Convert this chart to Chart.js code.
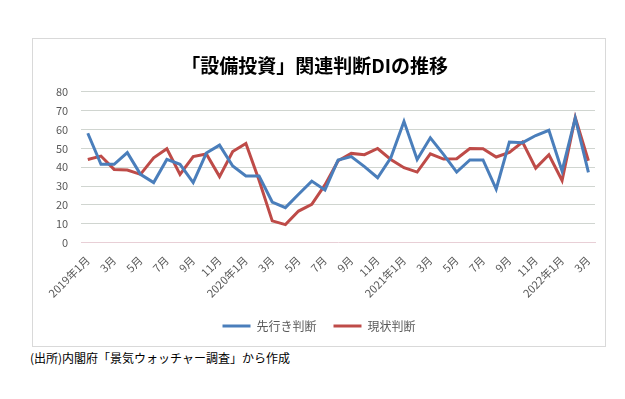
<!DOCTYPE html>
<html>
<head>
<meta charset="utf-8">
<script src="https://cdn.jsdelivr.net/npm/chart.js@4"></script>
<style>
    body { margin: 0; background: #fff; font-family: "Noto Sans CJK JP", sans-serif; }
    #box { position: absolute; left: 32px; top: 38px; width: 572px; height: 307px; border: 1px solid #d9d9d9; }
    #note { position: absolute; left: 30px; top: 349px; font-size: 12px; color: #000; }
</style>
</head>
<body>
<div id="box"><canvas id="chart"></canvas></div>
<div id="note">(出所)内閣府「景気ウォッチャー調査」から作成</div>
<script>
// months 2019年1月 .. 2022年3月
const months = [];
for (let y = 2019; y <= 2022; y++) {
    for (let m = 1; m <= 12; m++) {
        if (y === 2022 && m > 3) break;
        months.push(m === 1 ? y + "年1月" : m + "月");
    }
}

// 先行き判断
const outlook = [58, 41.5, 41.5, 47.7, 36.2, 31.8, 44.1, 41.5, 31.8, 47.5, 51.7, 40.6, 35.3, 35.3, 21.5, 18.5, 25.6, 32.6, 27.9, 43.8,
    45.6, 40.3, 34.4, 45, 64.3, 44.1, 55.6, 46.8, 37.4, 43.8, 43.8, 28.4, 53.3, 53, 56.8, 59.6, 38, 66, 37.2];
// 現状判断
const current = [44.1, 45.9, 38.8, 38.5, 36.2, 45, 49.8, 36.2, 45.6, 47, 35, 48.3, 52.6, 33, 11.5, 9.5, 16.7, 20.3, 30.6, 43.4,
    47.3, 46.6, 49.9, 44.1, 39.7, 37.4, 47.1, 44.3, 44.5, 49.9, 49.8, 45.4, 47.8, 53.3, 39.5, 46.6, 32.9, 66.3, 43.4];

const grid_color = "#d0d5d0";
const text_color = "#595959";
const jp_font = "'Noto Sans CJK JP', sans-serif";

new Chart(document.getElementById("chart"), {
    type: "line",
    data: {
        labels: months,
        datasets: [
            { label: "先行き判断", data: outlook, borderColor: "#4a7ebb", backgroundColor: "#4a7ebb", borderWidth: 3 },
            { label: "現状判断", data: current, borderColor: "#be4b48", backgroundColor: "#be4b48", borderWidth: 3 }
        ]
    },
    options: {
        responsive: true,
        maintainAspectRatio: false,
        animation: false,
        elements: { point: { radius: 0 }, line: { tension: 0 } },
        layout: { padding: { left: 10, right: 10, bottom: 4 } },
        plugins: {
            title: {
                display: true,
                text: "「設備投資」関連判断DIの推移  ",
                color: "#000",
                font: { size: 19, weight: "bold", family: jp_font },
                padding: { top: 15, bottom: 15 }
            },
            legend: {
                position: "bottom",
                labels: {
                    usePointStyle: true,
                    pointStyle: "line",
                    pointStyleWidth: 28,
                    boxHeight: 8,
                    color: text_color,
                    padding: 17,
                    font: { size: 12, family: jp_font }
                }
            },
            tooltip: { enabled: false }
        },
        scales: {
            x: {
                offset: true,
                grid: { display: false },
                border: { color: "#e8cfd6", dash: [2, 2] },
                ticks: {
                    autoSkip: false,
                    maxRotation: 45,
                    minRotation: 45,
                    color: text_color,
                    font: { size: 11, family: jp_font },
                    callback: function (v, i) { return i % 2 === 0 ? this.getLabelForValue(v) : ""; }
                }
            },
            y: {
                min: 0,
                max: 80,
                ticks: { stepSize: 10, color: text_color, padding: 13, font: { size: 11, family: jp_font } },
                grid: { color: (c) => c.index === 0 ? "rgba(0,0,0,0)" : grid_color, drawTicks: false, lineWidth: 1 },
                border: { display: false }
            }
        }
    }
});
</script>
</body>
</html>
